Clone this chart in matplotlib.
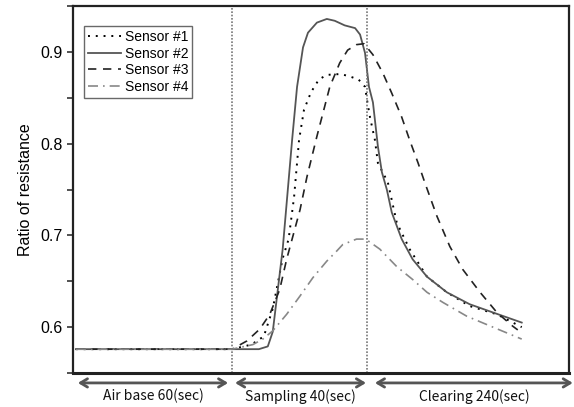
import matplotlib
matplotlib.use("Agg")
import matplotlib.pyplot as plt
import numpy as np

# ---- data (x in arbitrary time-axis units, y = ratio of resistance) ----
x1 = [0.6, 32.1, 36.0, 38.5, 40.3, 42.3, 43.5, 44.6, 45.6, 46.6, 48.0, 49.6, 51.2, 54.0, 56.0, 57.6, 58.9, 59.3,
      59.9, 60.9, 61.5, 63.5, 65.3, 67.9, 71.4, 75.4, 80.0, 85.5, 90.5]
y1 = [0.576, 0.576, 0.581, 0.590, 0.620, 0.675, 0.696, 0.742, 0.804, 0.837, 0.856, 0.870, 0.875, 0.876, 0.873,
      0.870, 0.862, 0.848, 0.829, 0.804, 0.779, 0.758, 0.714, 0.685, 0.655, 0.638, 0.623, 0.614, 0.600]

x2 = [0.6, 32.1, 37.5, 39.3, 40.3, 42.3, 44.2, 45.2, 46.4, 47.4, 49.2, 51.2, 52.8, 54.8, 56.9, 57.9, 58.9, 59.7,
      60.5, 61.5, 62.3, 63.3, 64.3, 66.3, 68.5, 71.4, 75.4, 80.0, 84.7, 90.5]
y2 = [0.576, 0.576, 0.576, 0.579, 0.595, 0.685, 0.804, 0.862, 0.905, 0.921, 0.932, 0.936, 0.934, 0.929, 0.926,
      0.919, 0.899, 0.862, 0.845, 0.797, 0.769, 0.750, 0.725, 0.696, 0.674, 0.655, 0.638, 0.625, 0.616, 0.605]

x3 = [0.6, 32.1, 35.1, 37.7, 39.7, 41.7, 43.1, 45.8, 47.2, 49.2, 51.8, 53.8, 55.4, 57.2, 58.7, 60.5, 62.5, 64.3,
      66.3, 67.9, 69.6, 71.0, 73.4, 76.0, 78.6, 82.1, 85.5, 88.7, 89.7]
y3 = [0.576, 0.576, 0.585, 0.598, 0.614, 0.641, 0.674, 0.728, 0.764, 0.808, 0.862, 0.888, 0.902, 0.908, 0.909,
      0.897, 0.877, 0.855, 0.829, 0.804, 0.779, 0.757, 0.721, 0.688, 0.663, 0.638, 0.616, 0.601, 0.597]

x4 = [0.6, 32.1, 36.3, 38.3, 40.3, 43.1, 45.8, 48.4, 51.2, 53.2, 54.4, 57.2, 58.7, 59.3, 61.9, 65.3, 68.5, 71.4,
      74.6, 79.4, 84.7, 90.5]
y4 = [0.576, 0.576, 0.581, 0.587, 0.596, 0.614, 0.634, 0.654, 0.672, 0.683, 0.690, 0.696, 0.696, 0.695, 0.685,
      0.666, 0.652, 0.638, 0.627, 0.612, 0.600, 0.587]

labels = ["Sensor #1", "Sensor #2", "Sensor #3", "Sensor #4"]
phase_bounds = [32.06, 59.27]
phase_labels = ["Air base 60(sec)", "Sampling 40(sec)", "Clearing 240(sec)"]
yticks_major = [0.6, 0.7, 0.8, 0.9]
yticks_minor = [0.55, 0.65, 0.75, 0.85, 0.95]

# ---- figure ----
plt.rcParams['font.family'] = ['Liberation Sans', 'DejaVu Sans']
fig = plt.figure(figsize=(5.74, 4.07), dpi=100)
ax = fig.add_axes([0.127, 0.0835, 0.864, 0.9015])

ax.plot(x1, y1, color='black', lw=1.4, linestyle=(0, (1, 3)), label=labels[0])
ax.plot(x2, y2, color='#555555', lw=1.3, linestyle='-', label=labels[1])
ax.plot(x3, y3, color='#222222', lw=1.2, linestyle=(0, (5, 4)), label=labels[2])
ax.plot(x4, y4, color='#888888', lw=1.2, linestyle=(0, (6, 3, 1, 3)), label=labels[3])

for b in phase_bounds:
    ax.axvline(b, color='#777777', lw=1.2, linestyle=(0, (1, 1)))

ax.set_xlim(0, 100)
ax.set_ylim(0.551, 0.95)
ax.set_xticks([])
ax.set_yticks(yticks_major)
ax.set_yticks(yticks_minor, minor=True)
ax.set_yticklabels([f"{v:.1f}" for v in yticks_major], fontsize=11.5)
ax.tick_params(axis='y', which='both', direction='out', length=4, width=1.2, color='#333333')
ax.set_ylabel("Ratio of resistance", fontsize=11.5, labelpad=5)

for s in ax.spines.values():
    s.set_linewidth(1.6)
    s.set_color('#222222')
ax.spines['bottom'].set_linewidth(2.2)

leg = ax.legend(loc='upper left', bbox_to_anchor=(0.023, 0.945), fontsize=10, frameon=True, fancybox=False,
                handlelength=2.4, handletextpad=0.3, borderpad=0.25, labelspacing=0.2, borderaxespad=0)
leg.get_frame().set_edgecolor('#444444')
leg.get_frame().set_linewidth(1.0)

# ---- phase arrows below the axis ----
tr = ax.get_xaxis_transform()
arrow_x = [(1.0, 31.3), (32.7, 59.1), (60.9, 100.8)]
for (a, b), lab in zip(arrow_x, phase_labels):
    ax.annotate("", xy=(b, -0.027), xytext=(a, -0.027), xycoords=tr, textcoords=tr,
                arrowprops=dict(arrowstyle='<->,head_length=0.5,head_width=0.3', color='#555555', lw=2.0,
                                shrinkA=0, shrinkB=0), annotation_clip=False)
    ax.text((a + b) / 2, -0.063, lab, transform=tr, ha='center', va='center', fontsize=10,
            family=['Noto Sans CJK KR', 'DejaVu Sans'], color='#111111', clip_on=False)

fig.savefig("out.png", dpi=100)
